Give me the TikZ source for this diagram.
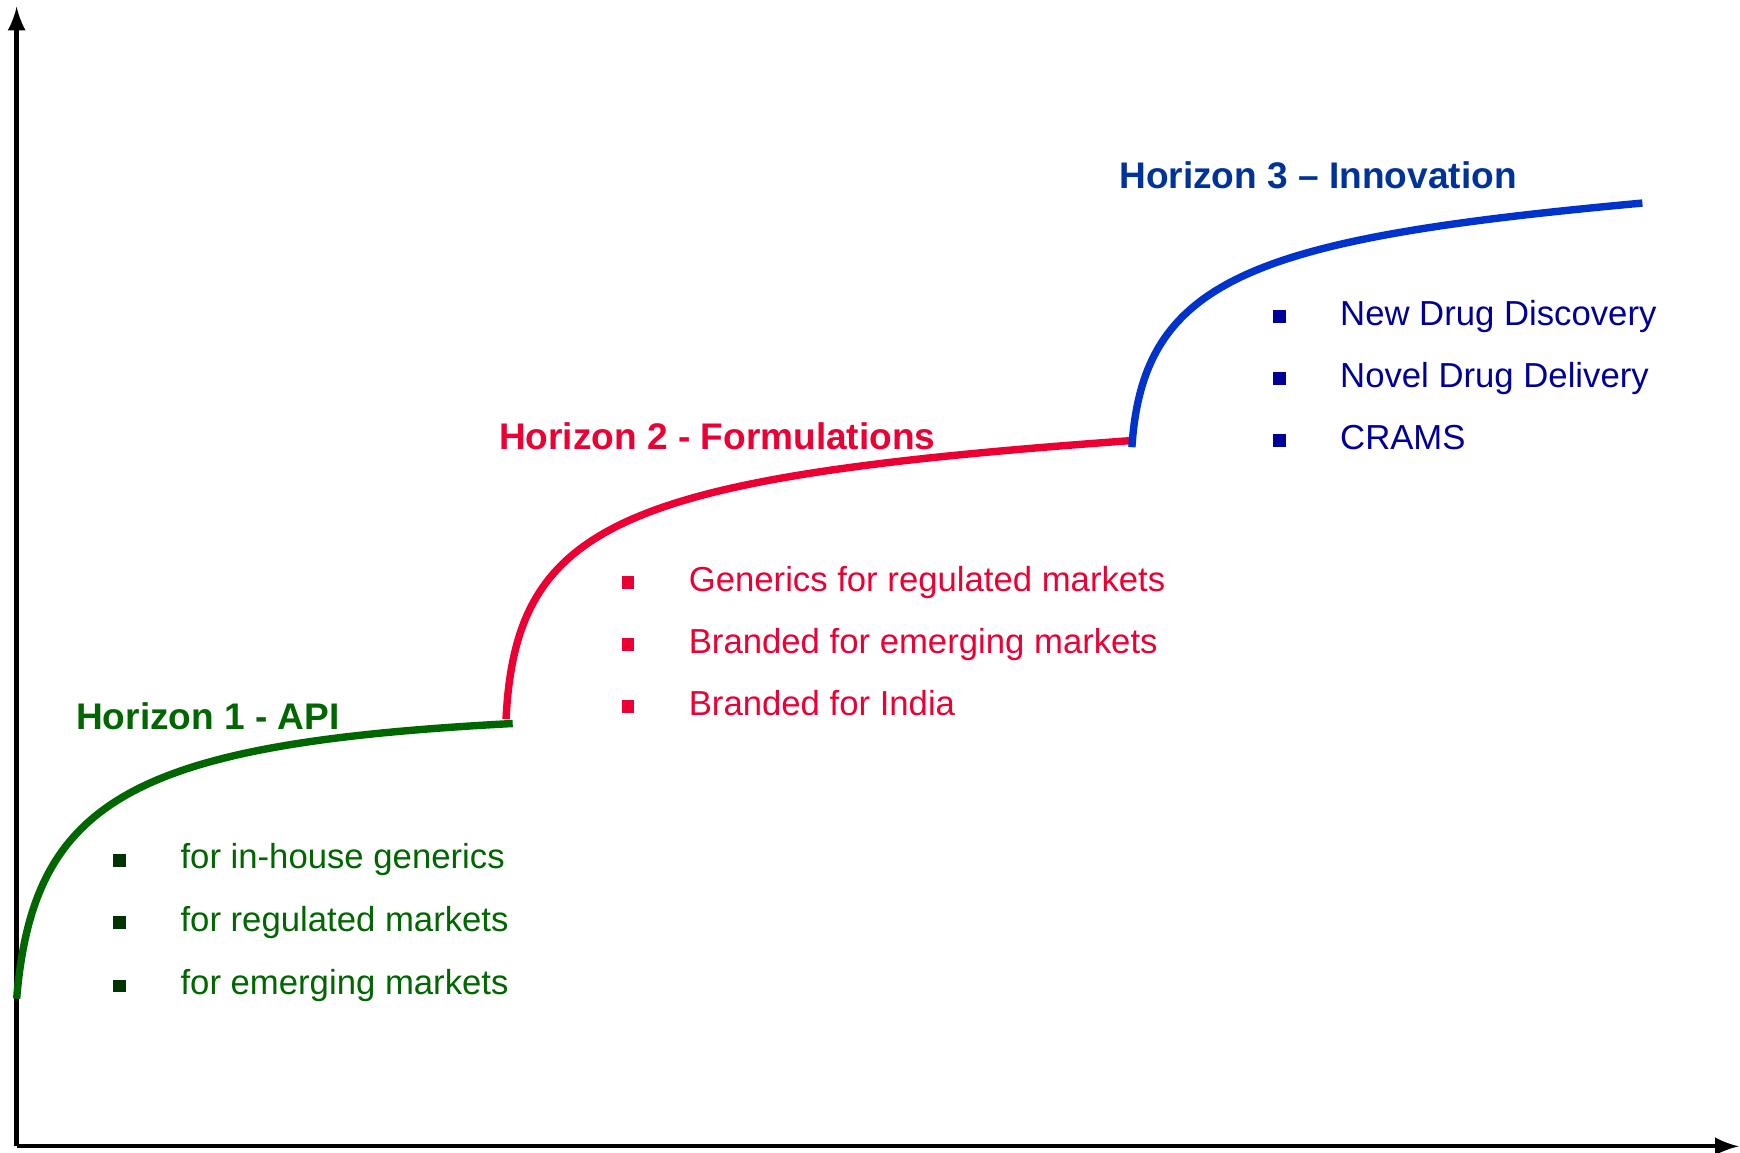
\documentclass[tikz,border=0pt]{standalone}
\usepackage{fontspec}
\setmainfont{Liberation Sans}
\definecolor{hgreen}{RGB}{0,102,0}
\definecolor{hgreendk}{RGB}{0,51,0}
\definecolor{hred}{RGB}{236,0,52}
\definecolor{hblue}{RGB}{0,51,153}
\definecolor{hbluecurve}{RGB}{0,51,204}
\definecolor{hnavy}{RGB}{0,0,153}
\tikzset{
  title/.style={anchor=base west, inner sep=0pt, font=\fontsize{9.5}{11}\selectfont\bfseries},
  item/.style={anchor=base west, inner sep=0pt, font=\fontsize{8.9}{10}\selectfont},
  bullet/.style={fill, inner sep=0pt, minimum size=0.115cm},
  horizon/.style={line width=1.9pt}
}

\begin{document}
\begin{tikzpicture}
    \useasboundingbox (0, 0) rectangle (15.68, 10.39);
    % axes
    \coordinate (o) at (0.15, 0.06);
    \coordinate (ytop) at (0.15, 10.33);
    \coordinate (xend) at (15.67, 0.06);
    \draw[-latex, line width=1.1pt] (o) -- (ytop);
    \draw[-latex, line width=1.1pt] (o) -- (xend);

    % curve ends
    \coordinate (g0) at (0.15, 1.39);
    \coordinate (g1) at (4.62, 3.87);
    \coordinate (r0) at (4.56, 3.91);
    \coordinate (r1) at (10.20, 6.42);
    \coordinate (b0) at (10.20, 6.36);
    \coordinate (b1) at (14.80, 8.56);

    \draw[horizon, hgreen] (g0) .. controls (0.30, 3.19) and (1.20, 3.69) .. (g1);
    \draw[horizon, hred] (r0) .. controls (4.65, 5.69) and (5.60, 6.09) .. (r1);
    \draw[horizon, hbluecurve] (b0) .. controls (10.30, 7.89) and (11.30, 8.24) .. (b1);

    % horizon 1
    \node[title, hgreen] (h1) at (0.68, 3.82) {Horizon 1 - API};
    \node[bullet, hgreendk] (g1a) at (1.08, 2.635) {};
    \node[bullet, hgreendk] (g1b) at (1.08, 2.075) {};
    \node[bullet, hgreendk] (g1c) at (1.08, 1.505) {};
    \node[item, hgreen] (g1at) at (1.62, 2.56) {for in-house generics};
    \node[item, hgreen] (g1bt) at (1.62, 2.00) {for regulated markets};
    \node[item, hgreen] (g1ct) at (1.62, 1.43) {for emerging markets};

    % horizon 2
    \node[title, hred] (h2) at (4.49, 6.34) {Horizon 2 - Formulations};
    \node[bullet, hred] (r2a) at (5.66, 5.14) {};
    \node[bullet, hred] (r2b) at (5.66, 4.58) {};
    \node[bullet, hred] (r2c) at (5.66, 4.02) {};
    \node[item, hred] (r2at) at (6.20, 5.06) {Generics for regulated markets};
    \node[item, hred] (r2bt) at (6.20, 4.50) {Branded for emerging markets};
    \node[item, hred] (r2ct) at (6.20, 3.94) {Branded for India};

    % horizon 3
    \node[title, hblue] (h3) at (10.08, 8.69) {Horizon 3 -- Innovation};
    \node[bullet, hnavy] (b3a) at (11.53, 7.54) {};
    \node[bullet, hnavy] (b3b) at (11.53, 6.98) {};
    \node[bullet, hnavy] (b3c) at (11.53, 6.42) {};
    \node[item, hnavy] (b3at) at (12.07, 7.46) {New Drug Discovery};
    \node[item, hnavy] (b3bt) at (12.07, 6.90) {Novel Drug Delivery};
    \node[item, hnavy] (b3ct) at (12.07, 6.34) {CRAMS};
  \end{tikzpicture}
\end{document}
